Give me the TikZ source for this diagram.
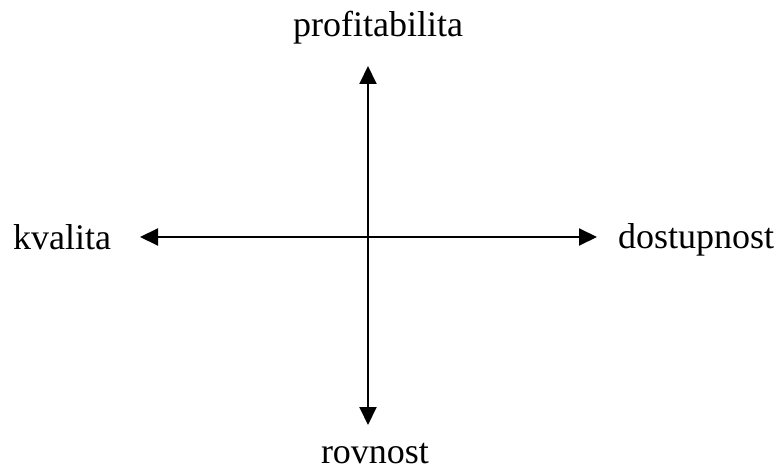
\documentclass[tikz,border=0pt]{standalone}
\usepackage{fontspec}
\setmainfont{Liberation Serif}
\usetikzlibrary{arrows.meta}
\begin{document}
\begin{tikzpicture}[x=1pt,y=-1pt,
  lbl/.style={font=\fontsize{36}{40}\selectfont, inner sep=0pt, anchor=base},
  axis/.style={line width=2pt, {Triangle[length=18pt,width=17pt]}-{Triangle[length=18pt,width=17pt]}}]
\useasboundingbox (0,0) rectangle (781,473);
\coordinate (top) at (368,66);
\coordinate (bot) at (368,425);
\coordinate (lft) at (140,237);
\coordinate (rgt) at (597,237);
\draw[axis] (top) -- (bot);
\draw[axis] (lft) -- (rgt);
\node[lbl] (p) at (378,37) {profitabilita};
\node[lbl, anchor=base west] (k) at (13,249) {kvalita};
\node[lbl, anchor=base west] (d) at (618,248) {dostupnost};
\node[lbl] (r) at (375,463) {rovnost};
\end{tikzpicture}
\end{document}
